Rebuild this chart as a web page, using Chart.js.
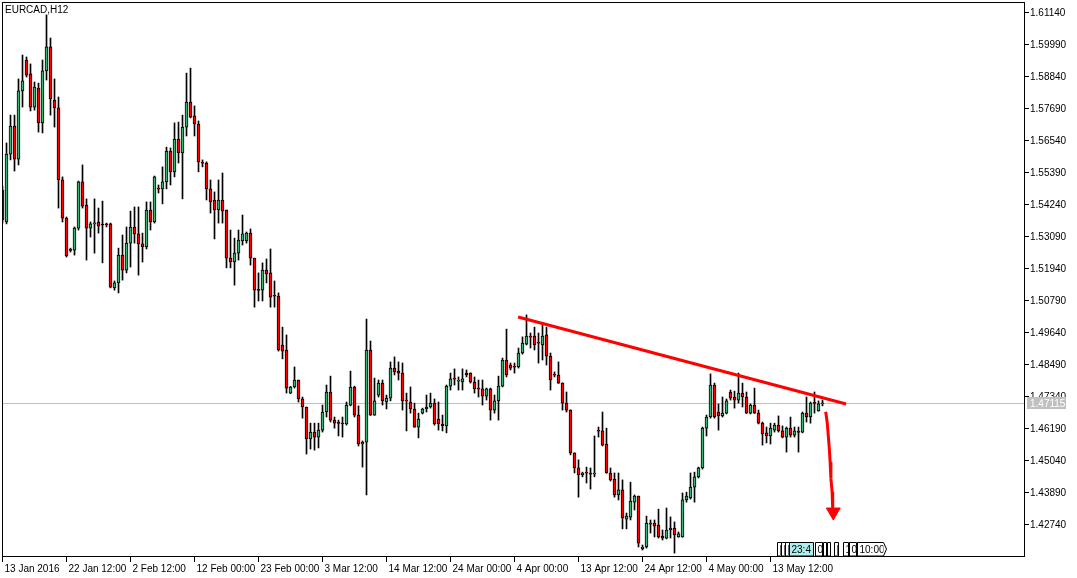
<!DOCTYPE html>
<html>
<head>
<meta charset="utf-8">
<title>EURCAD,H12</title>
<script src="https://cdn.jsdelivr.net/npm/chart.js@4"></script>
<style>
html, body { margin: 0; padding: 0; background: #fff; }
canvas { display: block; }
</style>
</head>
<body>
<canvas id="eurcad" width="1077" height="578"></canvas>
<script>
// EURCAD H12 candles, 13 Jan 2016 -> late May 2016
var opens = [
1.5478,1.5363,1.5607,1.5708,1.5589,1.5834,1.5945,1.5895,1.5776,1.5844,
1.5719,1.5906,1.5992,1.5801,1.5773,1.5514,1.5377,1.5262,1.5262,1.5341,
1.5507,1.5424,1.5341,1.5356,1.5363,1.5352,1.5356,1.5356,1.5126,1.5144,
1.5244,1.5190,1.5287,1.5345,1.5320,1.5284,1.5273,1.5406,1.5363,1.5482,
1.5482,1.5507,1.5618,1.5543,1.5661,1.5611,1.5704,1.5794,1.5744,1.5715,
1.5575,1.5575,1.5482,1.5442,1.5406,1.5442,1.5406,1.5233,1.5219,1.5251,
1.5295,1.5295,1.5323,1.5233,1.5118,1.5118,1.5190,1.5180,1.5097,1.5097,
1.4921,1.4903,1.4748,1.4770,1.4795,1.4727,1.4698,1.4583,1.4608,1.4590,
1.4615,1.4680,1.4752,1.4651,1.4640,1.4640,1.4637,1.4705,1.4770,1.4669,
1.4565,1.4572,1.4903,1.4669,1.4741,1.4784,1.4716,1.4730,1.4838,1.4827,
1.4820,1.4720,1.4716,1.4691,1.4626,1.4676,1.4691,1.4698,1.4712,1.4655,
1.4637,1.4630,1.4773,1.4799,1.4791,1.4788,1.4820,1.4820,1.4788,1.4763,
1.4763,1.4737,1.4763,1.4687,1.4720,1.4773,1.4867,1.4849,1.4842,1.4842,
1.4892,1.4924,1.4950,1.4953,1.4928,1.4921,1.4957,1.4881,1.4813,1.4813,
1.4784,1.4712,1.4687,1.4533,1.4479,1.4454,1.4461,1.4461,1.4457,1.4612,
1.4612,1.4565,1.4461,1.4439,1.4382,1.4400,1.4295,1.4302,1.4356,1.4378,
1.4188,1.4195,1.4281,1.4281,1.4274,1.4234,1.4227,1.4256,1.4263,1.4231,
1.4231,1.4364,1.4371,1.4410,1.4447,1.4479,1.4622,1.4662,1.4777,1.4680,
1.4666,1.4676,1.4752,1.4734,1.4723,1.4748,1.4734,1.4676,1.4705,1.4676,
1.4640,1.4605,1.4594,1.4615,1.4633,1.4612,1.4590,1.4622,1.4597,1.4608,
1.4608,1.4676,1.4662,1.4712,1.4684,1.4709
];
var highs = [
1.5492,1.5647,1.5747,1.5747,1.5877,1.5963,1.5956,1.5931,1.5866,1.5862,
1.5945,1.6107,1.6024,1.5877,1.5812,1.5525,1.5381,1.5269,1.5345,1.5510,
1.5568,1.5446,1.5363,1.5446,1.5413,1.5438,1.5359,1.5359,1.5151,1.5269,
1.5316,1.5345,1.5402,1.5417,1.5417,1.5323,1.5435,1.5435,1.5528,1.5496,
1.5561,1.5632,1.5629,1.5719,1.5722,1.5747,1.5898,1.5916,1.5780,1.5726,
1.5586,1.5579,1.5514,1.5471,1.5514,1.5539,1.5406,1.5334,1.5305,1.5334,
1.5388,1.5327,1.5338,1.5233,1.5180,1.5216,1.5230,1.5266,1.5151,1.5108,
1.4985,1.4957,1.4772,1.4842,1.4795,1.4734,1.4698,1.4640,1.4640,1.4640,
1.4705,1.4777,1.4809,1.4662,1.4651,1.4662,1.4716,1.4827,1.4773,1.4702,
1.4576,1.5014,1.4935,1.4802,1.4795,1.4795,1.4741,1.4860,1.4878,1.4860,
1.4856,1.4748,1.4770,1.4712,1.4676,1.4694,1.4741,1.4748,1.4727,1.4716,
1.4669,1.4777,1.4820,1.4835,1.4806,1.4835,1.4831,1.4821,1.4806,1.4795,
1.4795,1.4766,1.4766,1.4741,1.4809,1.4874,1.4978,1.4856,1.4856,1.4910,
1.4950,1.5029,1.4964,1.4985,1.4964,1.5000,1.4985,1.4892,1.4824,1.4860,
1.4785,1.4752,1.4688,1.4533,1.4508,1.4464,1.4482,1.4479,1.4594,1.4626,
1.4680,1.4622,1.4479,1.4461,1.4461,1.4436,1.4317,1.4428,1.4382,1.4378,
1.4202,1.4306,1.4292,1.4292,1.4331,1.4256,1.4335,1.4303,1.4285,1.4249,
1.4389,1.4392,1.4461,1.4464,1.4482,1.4626,1.4669,1.4817,1.4784,1.4709,
1.4734,1.4727,1.4759,1.4755,1.4820,1.4784,1.4752,1.4709,1.4766,1.4687,
1.4644,1.4626,1.4640,1.4640,1.4666,1.4630,1.4626,1.4662,1.4626,1.4626,
1.4680,1.4734,1.4716,1.4752,1.4720,1.4723
];
var lows = [
1.5359,1.5356,1.5586,1.5546,1.5568,1.5776,1.5884,1.5762,1.5765,1.5686,
1.5683,1.5873,1.5747,1.5704,1.5413,1.5363,1.5237,1.5255,1.5244,1.5334,
1.5413,1.5226,1.5309,1.5251,1.5323,1.5216,1.5345,1.5126,1.5118,1.5108,
1.5154,1.5180,1.5201,1.5287,1.5172,1.5219,1.5266,1.5334,1.5359,1.5467,
1.5428,1.5482,1.5496,1.5525,1.5575,1.5446,1.5672,1.5737,1.5672,1.5543,
1.5561,1.5442,1.5395,1.5302,1.5359,1.5359,1.5198,1.5198,1.5136,1.5226,
1.5280,1.5287,1.5208,1.5057,1.5079,1.5079,1.5144,1.5057,1.5057,1.4899,
1.4871,1.4748,1.4746,1.4766,1.4716,1.4658,1.4529,1.4547,1.4543,1.4551,
1.4608,1.4662,1.4644,1.4622,1.4594,1.4590,1.4633,1.4702,1.4662,1.4558,
1.4482,1.4382,1.4668,1.4668,1.4734,1.4705,1.4691,1.4720,1.4813,1.4795,
1.4687,1.4612,1.4676,1.4625,1.4587,1.4673,1.4680,1.4694,1.4633,1.4615,
1.4612,1.4605,1.4759,1.4777,1.4759,1.4759,1.4806,1.4784,1.4748,1.4734,
1.4705,1.4723,1.4651,1.4676,1.4651,1.4770,1.4806,1.4831,1.4820,1.4838,
1.4888,1.4921,1.4910,1.4903,1.4856,1.4867,1.4849,1.4759,1.4806,1.4783,
1.4687,1.4680,1.4526,1.4461,1.4374,1.4447,1.4425,1.4403,1.4447,1.4590,
1.4558,1.4460,1.4432,1.4374,1.4364,1.4260,1.4260,1.4292,1.4328,1.4195,
1.4184,1.4191,1.4245,1.4231,1.4227,1.4220,1.4224,1.4227,1.4173,1.4230,
1.4230,1.4356,1.4367,1.4356,1.4443,1.4475,1.4594,1.4658,1.4658,1.4615,
1.4662,1.4673,1.4723,1.4694,1.4712,1.4698,1.4675,1.4673,1.4675,1.4637,
1.4561,1.4569,1.4565,1.4608,1.4608,1.4587,1.4536,1.4590,1.4590,1.4536,
1.4605,1.4644,1.4640,1.4676,1.4683,1.4702
];
var closes = [
1.5370,1.5607,1.5708,1.5589,1.5834,1.5870,1.5891,1.5776,1.5848,1.5719,
1.5906,1.5992,1.5805,1.5773,1.5514,1.5377,1.5241,1.5261,1.5341,1.5507,
1.5420,1.5341,1.5356,1.5359,1.5348,1.5352,1.5352,1.5129,1.5144,1.5244,
1.5190,1.5287,1.5345,1.5320,1.5284,1.5273,1.5406,1.5363,1.5525,1.5481,
1.5507,1.5618,1.5543,1.5661,1.5611,1.5704,1.5794,1.5740,1.5715,1.5579,
1.5574,1.5482,1.5435,1.5406,1.5442,1.5402,1.5233,1.5219,1.5251,1.5298,
1.5320,1.5323,1.5233,1.5118,1.5117,1.5190,1.5176,1.5093,1.5096,1.4903,
1.4899,1.4766,1.4770,1.4795,1.4727,1.4698,1.4583,1.4608,1.4590,1.4615,
1.4680,1.4752,1.4651,1.4640,1.4639,1.4637,1.4705,1.4770,1.4669,1.4565,
1.4572,1.4903,1.4669,1.4720,1.4784,1.4720,1.4730,1.4838,1.4824,1.4820,
1.4720,1.4719,1.4691,1.4626,1.4655,1.4691,1.4698,1.4712,1.4637,1.4637,
1.4630,1.4773,1.4799,1.4798,1.4795,1.4799,1.4813,1.4788,1.4763,1.4762,
1.4737,1.4763,1.4687,1.4720,1.4773,1.4867,1.4813,1.4838,1.4841,1.4892,
1.4928,1.4953,1.4949,1.4921,1.4927,1.4953,1.4881,1.4795,1.4812,1.4784,
1.4712,1.4687,1.4533,1.4479,1.4454,1.4461,1.4460,1.4457,1.4458,1.4611,
1.4561,1.4461,1.4436,1.4382,1.4400,1.4299,1.4306,1.4360,1.4378,1.4209,
1.4195,1.4281,1.4277,1.4270,1.4231,1.4227,1.4256,1.4263,1.4238,1.4242,
1.4364,1.4378,1.4410,1.4447,1.4479,1.4622,1.4662,1.4777,1.4662,1.4666,
1.4676,1.4720,1.4730,1.4723,1.4748,1.4734,1.4676,1.4705,1.4676,1.4640,
1.4601,1.4594,1.4622,1.4633,1.4612,1.4590,1.4622,1.4597,1.4612,1.4607,
1.4676,1.4662,1.4712,1.4711,1.4709,1.47115
];

// time axis: one label every 16 bars
var tickLabels = ["13 Jan 2016", "22 Jan 12:00", "2 Feb 12:00", "12 Feb 00:00", "23 Feb 00:00",
  "3 Mar 12:00", "14 Mar 12:00", "24 Mar 00:00", "4 Apr 00:00", "13 Apr 12:00",
  "24 Apr 12:00", "4 May 00:00", "13 May 12:00"];
var priceTicks = [1.42740, 1.43890, 1.45040, 1.46190, 1.47340, 1.48490, 1.49640, 1.50790, 1.51940,
  1.53090, 1.54240, 1.55390, 1.56540, 1.57690, 1.58840, 1.59990, 1.61140];

// drawn objects (bar index, price)
var trendLine = [{x: 128.9, y: 1.50215}, {x: 210.9, y: 1.47088}];
var arrowPath = [{x: 205.8, y: 1.46811}, {x: 206.2, y: 1.46393}, {x: 206.7, y: 1.45495},
  {x: 206.9, y: 1.45014}, {x: 207.1, y: 1.44417}, {x: 207.4, y: 1.43935}, {x: 207.55, y: 1.43349}];
var arrowHead = [{x: 207.7, y: 1.43206}];

// overlapping time boxes near the bottom right (bar index from/to)
var timeBoxes = [
  {from: 193.6, to: 194.6, text: "|"},
  {from: 194.6, to: 195.6, text: "|"},
  {from: 195.6, to: 196.6, text: "|"},
  {from: 196.6, to: 202.6, text: "23:4", fill: "#afeeee"},
  {from: 203.1, to: 204.9, text: "0"},
  {from: 205.1, to: 205.9, text: "|"},
  {from: 206.1, to: 206.9, text: "|"},
  {from: 207.9, to: 208.9, text: "|"},
  {from: 210.1, to: 211.4, text: "1"},
  {from: 211.6, to: 213.4, text: "0"},
  {from: 213.6, to: 220.1, text: "10:00", arrow: true}
];

var FONT = '"Liberation Sans", Arial, sans-serif';
Chart.defaults.font.family = FONT;
Chart.defaults.font.size = 10;
Chart.defaults.color = '#000';

var wickData = closes.map(function (c, i) { return {x: i, y: [lows[i], highs[i]]}; });
var bodyData = closes.map(function (c, i) { return {x: i, y: [opens[i], closes[i]]}; });

function bodyColor(ctx) {
  var i = ctx.dataIndex;
  if (closes[i] > opens[i]) return '#3cb371';
  if (closes[i] < opens[i]) return '#ff0000';
  return '#000';
}

var mtFrame = {
  id: 'mtFrame',
  beforeDatasetsDraw: function (chart) {
    var ctx = chart.ctx, a = chart.chartArea, y = chart.scales.y;
    var py = Math.round(y.getPixelForValue(closes[closes.length - 1])) + 0.5;
    ctx.save();
    ctx.strokeStyle = '#c0c0c0';
    ctx.lineWidth = 1;
    ctx.beginPath();
    ctx.moveTo(a.left, py);
    ctx.lineTo(a.right, py);
    ctx.stroke();
    ctx.restore();
  },
  afterDraw: function (chart) {
    var ctx = chart.ctx, a = chart.chartArea, x = chart.scales.x, y = chart.scales.y;
    ctx.save();
    ctx.strokeStyle = '#000';
    ctx.lineWidth = 1;
    ctx.strokeRect(a.left + 0.5, a.top + 0.5, a.right - a.left - 1, a.bottom - a.top - 1);

    ctx.font = '10px ' + FONT;
    ctx.fillStyle = '#000';
    ctx.textBaseline = 'alphabetic';
    ctx.textAlign = 'left';
    ctx.fillText('EURCAD,H12', a.left + 3, a.top + 11);

    // time boxes
    var top = a.bottom - 15, bot = a.bottom - 1;
    timeBoxes.forEach(function (b) {
      var x0 = Math.round(x.getPixelForValue(b.from)) + 0.5;
      var x1 = Math.round(x.getPixelForValue(b.to)) + 0.5;
      ctx.beginPath();
      ctx.moveTo(x0, top + 0.5);
      ctx.lineTo(x1, top + 0.5);
      if (b.arrow) {
        ctx.lineTo(x1 + 3, (top + bot) / 2);
      }
      ctx.lineTo(x1, bot);
      ctx.lineTo(x0, bot);
      ctx.closePath();
      ctx.fillStyle = b.fill || '#fff';
      ctx.fill();
      ctx.stroke();
      ctx.save();
      ctx.beginPath();
      ctx.rect(x0, top, x1 - x0, bot - top);
      ctx.clip();
      ctx.fillStyle = '#000';
      ctx.textBaseline = 'middle';
      ctx.fillText(b.text, x0 + 2, (top + bot) / 2 + 1);
      ctx.restore();
    });

    // current price tag
    var last = closes[closes.length - 1];
    var py = Math.round(y.getPixelForValue(last));
    ctx.fillStyle = '#c0c0c0';
    ctx.fillRect(y.left + 2, py - 6, 39, 12);
    ctx.fillStyle = '#fff';
    ctx.textBaseline = 'middle';
    ctx.fillText(last.toFixed(5), y.left + 5, py + 1);
    ctx.restore();
  }
};

new Chart('eurcad', {
  type: 'bar',
  data: {
    datasets: [
      {type: 'line', data: trendLine, borderColor: '#ff0000', borderWidth: 3, pointRadius: 0, order: 0},
      {type: 'line', data: arrowPath, borderColor: '#ff0000', borderWidth: 3, pointRadius: 0, order: 0},
      {type: 'line', data: arrowHead, showLine: false, pointStyle: 'triangle', rotation: 180,
        pointRadius: 8, backgroundColor: '#ff0000', borderColor: '#ff0000', order: 0},
      {data: bodyData, barThickness: 3, backgroundColor: bodyColor, borderColor: '#000',
        borderWidth: 1, borderSkipped: false, minBarLength: 1, grouped: false, order: 1},
      {data: wickData, barThickness: 1, backgroundColor: '#000', borderWidth: 0, grouped: false, order: 2}
    ]
  },
  options: {
    responsive: false,
    animation: false,
    devicePixelRatio: 1,
    events: [],
    layout: {padding: {left: 2, top: 2, right: 0, bottom: 0}, autoPadding: false},
    plugins: {legend: {display: false}, tooltip: {enabled: false}},
    scales: {
      x: {
        type: 'linear',
        min: -0.125,
        max: 255.625,
        offset: false,
        bounds: 'data',
        border: {display: false},
        grid: {offset: false, drawOnChartArea: false, drawTicks: true, tickLength: 5, color: '#000'},
        ticks: {
          align: 'start', labelOffset: 2, padding: 1, autoSkip: false, maxRotation: 0, minRotation: 0,
          color: '#000',
          callback: function (v) { return tickLabels[Math.round(v / 16)]; }
        },
        afterBuildTicks: function (s) {
          s.ticks = tickLabels.map(function (t, k) { return {value: k * 16}; });
        },
        afterFit: function (s) {
          s.height = 21;
          s.paddingLeft = 0; s.paddingRight = 0;
        }
      },
      y: {
        position: 'right',
        min: 1.415897,
        max: 1.615353,
        bounds: 'data',
        border: {display: false},
        grid: {offset: false, drawOnChartArea: false, drawTicks: true, tickLength: 4, color: '#000'},
        ticks: {
          padding: 1, autoSkip: false, color: '#000',
          callback: function (v) { return v.toFixed(5); }
        },
        afterBuildTicks: function (s) {
          s.ticks = priceTicks.map(function (v) { return {value: v}; });
        },
        afterFit: function (s) {
          s.width = 52;
          s.paddingTop = 0; s.paddingBottom = 0;
        }
      }
    }
  },
  plugins: [mtFrame]
});
</script>
</body>
</html>
